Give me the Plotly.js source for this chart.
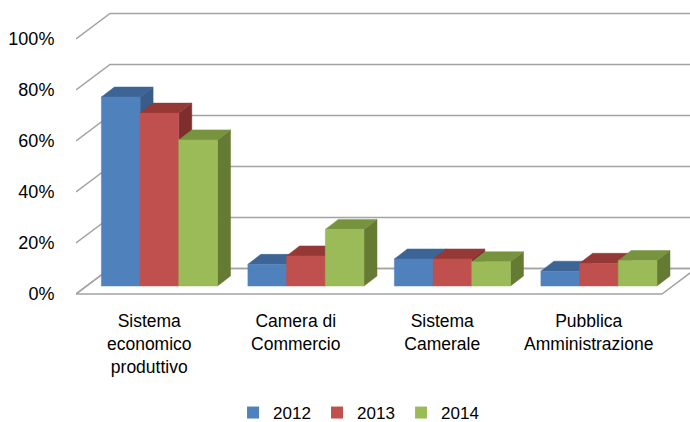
<!DOCTYPE html>
<html>
<head>
<meta charset="utf-8">
<script src="https://cdn.plot.ly/plotly-3.0.1.min.js"></script>
<style>html,body{margin:0;padding:0;background:#fff;}#chart{width:690px;height:422px;}</style>
</head>
<body>
<div id="chart"></div>
<script>
// ---- data ----
var categories = ["Sistema<br>economico<br>produttivo", "Camera di<br>Commercio", "Sistema<br>Camerale", "Pubblica<br>Amministrazione"];
var seriesNames = ["2012", "2013", "2014"];
var v2012 = [74.1, 8.5, 10.6, 5.8];
var v2013 = [67.8, 11.8, 10.6, 8.9];
var v2014 = [57.3, 22.2, 9.5, 10.0];
var yTickVals = [0, 20, 40, 60, 80, 100];
var yTickText = ["0%", "20%", "40%", "60%", "80%", "100%"];

// ---- style / geometry ----
var frontCol = ["#4F81BD", "#C0504D", "#9BBB59"];
var topCol   = ["#3C6494", "#953836", "#77933D"];
var sideCol  = ["#385D8A", "#7E2F2D", "#657B34"];
var gridCol = "#a3a3a3";
var FLOOR_DX = 0.2321, FLOOR_DY = 10;   // depth of floor/walls in axis units
var BAR_OX = 0.0696, BAR_OY = 3.137;     // bar front plane offset
var BAR_DX = 0.0887, BAR_DY = 3.92;      // bar depth
var BAR_W = 0.2642;

var series = [v2012, v2013, v2014];
var traces = [];

// floor
var x0 = -0.5, x1 = categories.length - 0.5;
traces.push({x:[x0, x1, x1 + FLOOR_DX, x0 + FLOOR_DX, x0], y:[0, 0, FLOOR_DY, FLOOR_DY, 0],
  mode:"lines", fill:"toself", fillcolor:"#ffffff", line:{color:gridCol, width:1.5},
  showlegend:false, hoverinfo:"skip"});
// back wall gridlines and left diagonals
var gx = [], gy = [];
yTickVals.forEach(function(v){
  gx.push(x0, x0 + FLOOR_DX, x1 + FLOOR_DX + 0.2, null);
  gy.push(v, v + FLOOR_DY, v + FLOOR_DY, null);
});
traces.push({x:gx, y:gy, mode:"lines", line:{color:gridCol, width:1.5}, showlegend:false, hoverinfo:"skip"});

// bars (3D: side, top, front per series, drawn left to right)
series.forEach(function(vals, s){
  var fx=[], fy=[], tx=[], ty=[], sx=[], sy=[];
  vals.forEach(function(v, c){
    var L = c + BAR_OX + (s - 1.5) * BAR_W, R = L + BAR_W;
    var b = BAR_OY, t = BAR_OY + v;
    fx.push(L, R, R, L, L, null); fy.push(b, b, t, t, b, null);
    tx.push(L, R, R + BAR_DX, L + BAR_DX, L, null); ty.push(t, t, t + BAR_DY, t + BAR_DY, t, null);
    sx.push(R, R + BAR_DX, R + BAR_DX, R, R, null); sy.push(b, b + BAR_DY, t + BAR_DY, t, b, null);
  });
  traces.push({x:sx, y:sy, mode:"lines", fill:"toself", fillcolor:sideCol[s], line:{color:sideCol[s], width:0.5}, showlegend:false, hoverinfo:"skip"});
  traces.push({x:tx, y:ty, mode:"lines", fill:"toself", fillcolor:topCol[s], line:{color:topCol[s], width:0.5}, showlegend:false, hoverinfo:"skip"});
  traces.push({x:fx, y:fy, mode:"lines", fill:"toself", fillcolor:frontCol[s], line:{color:frontCol[s], width:0.5}, showlegend:false, hoverinfo:"skip"});
});

// legend entries
seriesNames.forEach(function(n, s){
  traces.push({type:"bar", x:[null], y:[null], name:n, marker:{color:frontCol[s]}, showlegend:true});
});

var layout = {
  width:690, height:422,
  margin:{l:76, r:0, t:5, b:122, autoexpand:false},
  paper_bgcolor:"#ffffff", plot_bgcolor:"rgba(0,0,0,0)",
  font:{family:"Liberation Sans, Arial, sans-serif", size:18, color:"#000"},
  showlegend:true,
  legend:{orientation:"h", x:0.461, xanchor:"center", y:-0.383, yanchor:"middle",
          font:{size:17}, entrywidth:39, traceorder:"normal"},
  xaxis:{type:"linear", range:[-0.5, 3.6911], showgrid:false, zeroline:false, showline:false,
         tickvals:[0,1,2,3], ticktext:categories, ticks:"outside", ticklen:5, tickcolor:"rgba(0,0,0,0)",
         tickfont:{size:17.5}, fixedrange:true},
  yaxis:{range:[-2.353, 113.33], showgrid:false, zeroline:false, showline:false,
         tickvals:yTickVals, ticktext:yTickText, ticks:"outside", ticklen:17, tickcolor:"rgba(0,0,0,0)",
         tickfont:{size:18}, fixedrange:true}
};
Plotly.newPlot("chart", traces, layout, {displayModeBar:false, staticPlot:true});
</script>
</body>
</html>
